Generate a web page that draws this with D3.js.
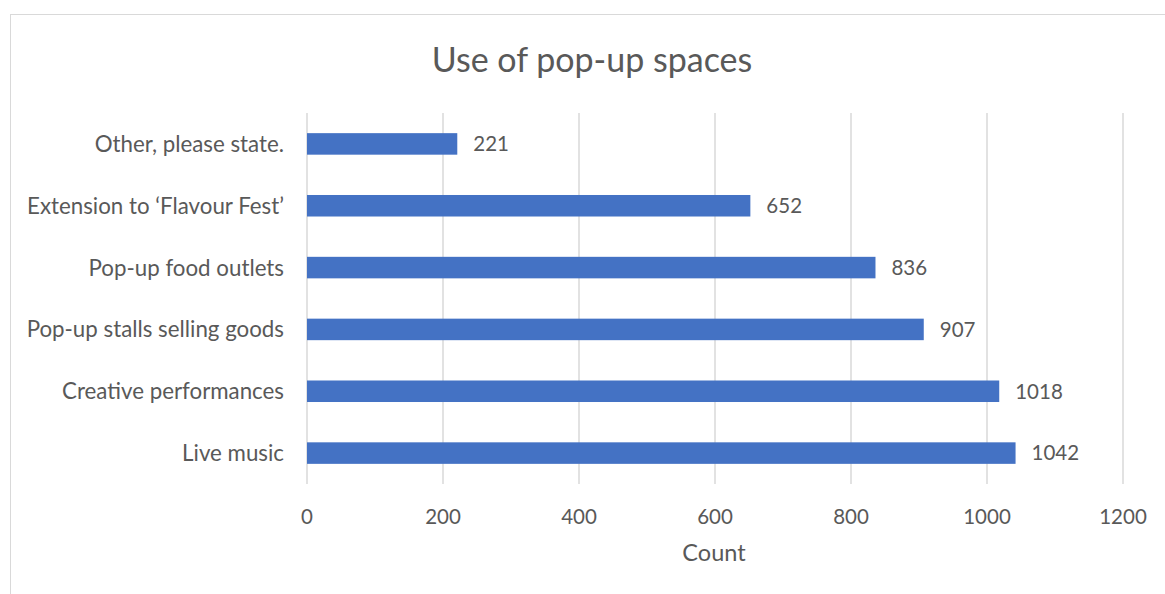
<!DOCTYPE html>
<html><head><meta charset="utf-8">
<script src="https://cdn.jsdelivr.net/npm/d3@7"></script>
<style>body{margin:0;background:#fff}svg{display:block}text{font-family:Lato,"Open Sans",sans-serif;fill:#595959}</style>
</head><body>
<svg id="c" width="1165" height="594"></svg>
<script>
const categories = ["Other, please state.","Extension to \u2018Flavour Fest\u2019","Pop-up food outlets","Pop-up stalls selling goods","Creative performances","Live music"];
const counts = [221,652,836,907,1018,1042];
const xTicks = [0,200,400,600,800,1000,1200];
const title = "Use of pop-up spaces";
const xTitle = "Count";

const svg = d3.select("#c");
svg.append("rect").attr("x",10.5).attr("y",14.5).attr("width",1200).attr("height",700)
  .attr("fill","#fff").attr("stroke","#d9d9d9").attr("stroke-width",1);

const m = {left:307, right:1123, top:113, bottom:484};
const x = d3.scaleLinear().domain([0,1200]).range([m.left,m.right]);
const y = d3.scaleBand().domain(categories).range([m.top,m.bottom]).paddingInner(0.652).paddingOuter(0.326);

const g = svg.append("g");
g.selectAll("line.grid").data(xTicks).join("line").attr("class","grid")
  .attr("x1",d=>x(d)).attr("x2",d=>x(d)).attr("y1",m.top).attr("y2",m.bottom)
  .attr("stroke","#d9d9d9").attr("stroke-width",1.5);

g.selectAll("rect.bar").data(categories).join("rect").attr("class","bar")
  .attr("x",x(0)).attr("y",d=>y(d)).attr("width",(d,i)=>x(counts[i])-x(0)).attr("height",y.bandwidth())
  .attr("fill","#4472c4");

g.selectAll("text.val").data(categories).join("text").attr("class","val")
  .attr("x",(d,i)=>x(counts[i])+16).attr("y",d=>y(d)+y.bandwidth()/2).attr("dy","0.36em")
  .attr("font-size",20.5).text((d,i)=>counts[i]);

g.selectAll("text.cat").data(categories).join("text").attr("class","cat")
  .attr("x",284).attr("y",d=>y(d)+y.bandwidth()/2).attr("dy","0.36em").attr("text-anchor","end")
  .attr("font-size",22.3).text(d=>d);

g.selectAll("text.tick").data(xTicks).join("text").attr("class","tick")
  .attr("x",d=>x(d)).attr("y",517).attr("dy","0.36em").attr("text-anchor","middle")
  .attr("font-size",20.5).text(d=>d);

svg.append("text").attr("x",714).attr("y",553).attr("dy","0.36em").attr("text-anchor","middle")
  .attr("font-size",23.5).text(xTitle);
svg.append("text").attr("x",592).attr("y",60).attr("dy","0.36em").attr("text-anchor","middle")
  .attr("font-size",34).text(title);
</script>
</body></html>
